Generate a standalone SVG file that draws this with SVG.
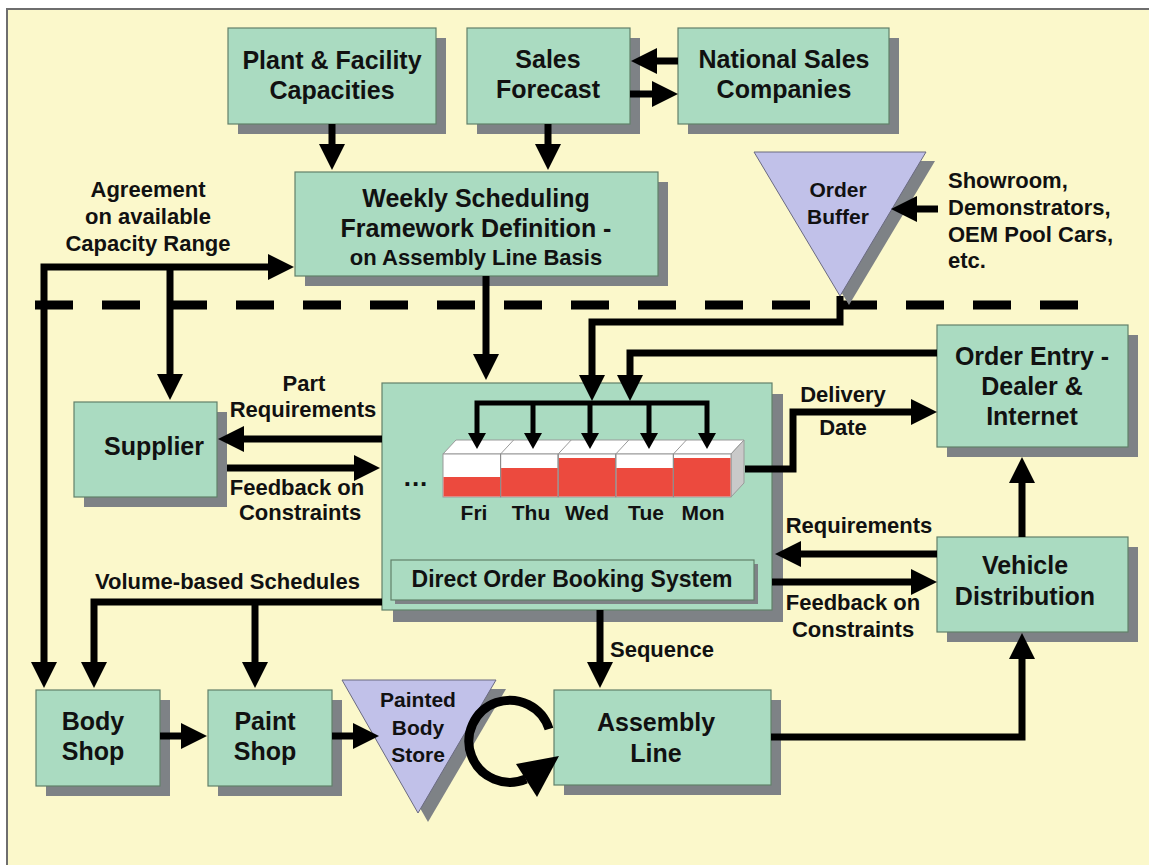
<svg xmlns="http://www.w3.org/2000/svg" width="1149" height="865" viewBox="0 0 1149 865">
  <style>
    .frame{fill:#FBF8CB;stroke:#6E6E6E;stroke-width:2}
    .box{fill:#AADBC1;stroke:#62806A;stroke-width:1.2}
    .shd{fill:#7E8286}
    .tri{fill:#C1C1E9;stroke:#6A6A80;stroke-width:1}
    text{font-family:"Liberation Sans",Arial,Helvetica,sans-serif;font-weight:bold;fill:#111;text-anchor:middle}
    .n{font-size:25px}
    .l{font-size:22px}
    .s{font-size:21px}
    .st{text-anchor:start}
    .cn{fill:none;stroke:#000;stroke-width:7;stroke-linejoin:miter}
    .end{marker-end:url(#ah)}
    .both{marker-start:url(#ah);marker-end:url(#ah)}
    .sm{fill:none;stroke:#000;stroke-width:5;marker-end:url(#ahs)}
    .face{fill:#FFFFFF;stroke:#9A9A9A;stroke-width:1}
    .red{fill:#EC4A3E}
    .side{fill:#C9C9C9;stroke:#9A9A9A;stroke-width:1}
  </style>
  <defs>
    <marker id="ah" viewBox="0 0 26 26" refX="6" refY="13" markerWidth="26" markerHeight="26" markerUnits="userSpaceOnUse" orient="auto-start-reverse">
      <path d="M0,0 L26,13 L0,26 Z" fill="#000"/>
    </marker>
    <marker id="ahs" viewBox="0 0 16 18" refX="4" refY="9" markerWidth="16" markerHeight="18" markerUnits="userSpaceOnUse" orient="auto-start-reverse">
      <path d="M0,0 L16,9 L0,18 Z" fill="#000"/>
    </marker>
  </defs>

  <!-- page background and frame -->
  <rect x="0" y="0" width="1149" height="865" fill="#FFFFFF"/>
  <rect class="frame" x="7" y="9" width="1160" height="870"/>

  <!-- planning / execution separator -->
  <g id="separator">
    <path d="M35,305 H1080" stroke="#000" stroke-width="9" stroke-dasharray="38 29" fill="none"/>
  </g>

  <!-- nodes -->
  <g id="plant-capacities">
    <rect class="shd" x="238" y="38" width="208" height="96"/>
    <rect class="box" x="228" y="28" width="208" height="96"/>
    <text class="n" x="332" y="69">Plant &amp; Facility</text>
    <text class="n" x="332" y="99">Capacities</text>
  </g>

  <g id="sales-forecast">
    <rect class="shd" x="477" y="38" width="163" height="96"/>
    <rect class="box" x="467" y="28" width="163" height="96"/>
    <text class="n" x="548" y="68">Sales</text>
    <text class="n" x="548" y="98">Forecast</text>
  </g>

  <g id="national-sales">
    <rect class="shd" x="688" y="38" width="211" height="96"/>
    <rect class="box" x="678" y="28" width="211" height="96"/>
    <text class="n" x="784" y="68">National Sales</text>
    <text class="n" x="784" y="98">Companies</text>
  </g>

  <g id="weekly-scheduling">
    <rect class="shd" x="305" y="182" width="363" height="104"/>
    <rect class="box" x="295" y="172" width="363" height="104"/>
    <text class="n" x="476" y="207">Weekly Scheduling</text>
    <text class="n" x="476" y="237">Framework Definition -</text>
    <text class="l" x="476" y="265">on Assembly Line Basis</text>
  </g>

  <g id="order-buffer">
    <polygon class="shd" points="763,161 935,161 849,305"/>
    <polygon class="tri" points="754,152 926,152 840,296"/>
    <text class="s" x="838" y="197">Order</text>
    <text class="s" x="838" y="224">Buffer</text>
  </g>

  <g id="order-entry">
    <rect class="shd" x="947" y="335" width="191" height="122"/>
    <rect class="box" x="937" y="325" width="191" height="122"/>
    <text class="n" x="1032" y="365">Order Entry -</text>
    <text class="n" x="1032" y="395">Dealer &amp;</text>
    <text class="n" x="1032" y="425">Internet</text>
  </g>

  <g id="supplier">
    <rect class="shd" x="84" y="412" width="143" height="95"/>
    <rect class="box" x="74" y="402" width="143" height="95"/>
    <text class="n" x="154" y="455">Supplier</text>
  </g>

  <g id="direct-order-booking">
    <rect class="shd" x="393" y="394" width="390" height="228"/>
    <rect class="box" x="382" y="383" width="390" height="227"/>
    <rect class="shd" x="395" y="564" width="363" height="40"/>
    <rect class="box" x="391" y="560" width="363" height="40"/>
    <text x="572" y="587" style="font-size:23px">Direct Order Booking System</text>
    <!-- weekly slot row -->
    <g id="day-slots">
      <polygon class="face" points="443,454 456,440 744,440 731,454"/>
      <path d="M500.6,454 L513.6,440 M558.2,454 L571.2,440 M615.8,454 L628.8,440 M673.4,454 L686.4,440" stroke="#9A9A9A" stroke-width="1"/>
      <polygon class="side" points="731,454 744,440 744,483 731,497"/>
      <rect class="face" x="443" y="454" width="57.6" height="43"/>
      <rect class="face" x="500.6" y="454" width="57.6" height="43"/>
      <rect class="face" x="558.2" y="454" width="57.6" height="43"/>
      <rect class="face" x="615.8" y="454" width="57.6" height="43"/>
      <rect class="face" x="673.4" y="454" width="57.6" height="43"/>
      <rect class="red" x="443.5" y="477" width="56.6" height="19.5"/>
      <rect class="red" x="501.1" y="468" width="56.6" height="28.5"/>
      <rect class="red" x="558.7" y="458" width="56.6" height="38.5"/>
      <rect class="red" x="616.3" y="468" width="56.6" height="28.5"/>
      <rect class="red" x="673.9" y="458" width="56.6" height="38.5"/>
      <path d="M500.6,454 V497 M558.2,454 V497 M615.8,454 V497 M673.4,454 V497" stroke="#8A8A8A" stroke-width="1"/>
    </g>
    <text x="416" y="486" style="font-size:26px;letter-spacing:1px">...</text>
    <text class="s" x="474" y="520">Fri</text>
    <text class="s" x="531" y="520">Thu</text>
    <text class="s" x="587" y="520">Wed</text>
    <text class="s" x="646" y="520">Tue</text>
    <text class="s" x="703" y="520">Mon</text>
  </g>

  <g id="vehicle-distribution">
    <rect class="shd" x="947" y="547" width="191" height="95"/>
    <rect class="box" x="937" y="537" width="191" height="95"/>
    <text class="n" x="1025" y="574">Vehicle</text>
    <text class="n" x="1025" y="605">Distribution</text>
  </g>

  <g id="body-shop">
    <rect class="shd" x="46" y="700" width="124" height="96"/>
    <rect class="box" x="36" y="690" width="124" height="96"/>
    <text class="n" x="93" y="730">Body</text>
    <text class="n" x="93" y="760">Shop</text>
  </g>

  <g id="paint-shop">
    <rect class="shd" x="218" y="700" width="124" height="96"/>
    <rect class="box" x="208" y="690" width="124" height="96"/>
    <text class="n" x="265" y="730">Paint</text>
    <text class="n" x="265" y="760">Shop</text>
  </g>

  <g id="painted-body-store">
    <polygon class="shd" points="352,689 506,689 428,822"/>
    <polygon class="tri" points="342,680 496,680 418,813"/>
    <text class="s" x="418" y="707">Painted</text>
    <text class="s" x="418" y="735">Body</text>
    <text class="s" x="418" y="762">Store</text>
  </g>

  <g id="assembly-line">
    <rect class="shd" x="564" y="700" width="217" height="95"/>
    <rect class="box" x="554" y="690" width="217" height="95"/>
    <text class="n" x="656" y="731">Assembly</text>
    <text class="n" x="656" y="762">Line</text>
  </g>

  <!-- connectors -->
  <g id="connectors">
    <path class="cn end" d="M332,124 V150"/>
    <path class="cn end" d="M548,124 V150"/>
    <path class="cn end" d="M678,61 H651"/>
    <path class="cn end" d="M630,94 H658"/>
    <path class="cn both" d="M44,668 V267 H274"/>
    <path class="cn end" d="M170,267 V380"/>
    <path class="cn end" d="M486,276 V360"/>
    <path class="cn end" d="M840,296 V322 H592 V381"/>
    <path class="cn end" d="M937,353 H630 V381"/>
    <path class="sm" d="M477,437 V403 H707 V437" style="marker-start:url(#ahs)"/>
    <path class="sm" d="M533,403 V437"/>
    <path class="sm" d="M590,403 V437"/>
    <path class="sm" d="M649,403 V437"/>
    <path class="cn end" d="M382,439 H238"/>
    <path class="cn end" d="M227,468 H360"/>
    <path class="cn end" d="M745,469 H793 V412 H917"/>
    <path class="cn end" d="M937,554 H795"/>
    <path class="cn end" d="M772,582 H917"/>
    <path class="cn end" d="M1022,537 V477"/>
    <path class="cn end" d="M771,737 H1022 V653"/>
    <path class="cn end" d="M600,610 V668"/>
    <path class="cn end" d="M382,602 H94 V668"/>
    <path class="cn end" d="M255,602 V668"/>
    <path class="cn end" d="M160,736 H187"/>
    <path class="cn end" d="M332,736 H359"/>
    <path class="cn end" d="M938,209 H911"/>
    <!-- buffering loop at the body store -->
    <path d="M549,729 A41,41 0 1 0 526,779" fill="none" stroke="#000" stroke-width="9"/>
    <polygon points="516,764 559,756 537,797" fill="#000"/>
  </g>

  <!-- connector labels -->
  <g id="labels">
    <text class="l" x="148" y="197">Agreement</text>
    <text class="l" x="148" y="224">on available</text>
    <text class="l" x="148" y="251">Capacity Range</text>
    <text class="l st" x="948" y="188">Showroom,</text>
    <text class="l st" x="948" y="215">Demonstrators,</text>
    <text class="l st" x="948" y="242">OEM Pool Cars,</text>
    <text class="l st" x="948" y="268">etc.</text>
    <text class="l" x="304" y="391">Part</text>
    <text class="l" x="303" y="417">Requirements</text>
    <text class="l" x="297" y="495">Feedback on</text>
    <text class="l" x="300" y="520">Constraints</text>
    <text class="l" x="843" y="402">Delivery</text>
    <text class="l" x="843" y="435">Date</text>
    <text class="l" x="859" y="533">Requirements</text>
    <text class="l" x="853" y="610">Feedback on</text>
    <text class="l" x="853" y="637">Constraints</text>
    <text class="l st" x="95" y="589">Volume-based Schedules</text>
    <text class="l st" x="610" y="657">Sequence</text>
  </g>
</svg>
